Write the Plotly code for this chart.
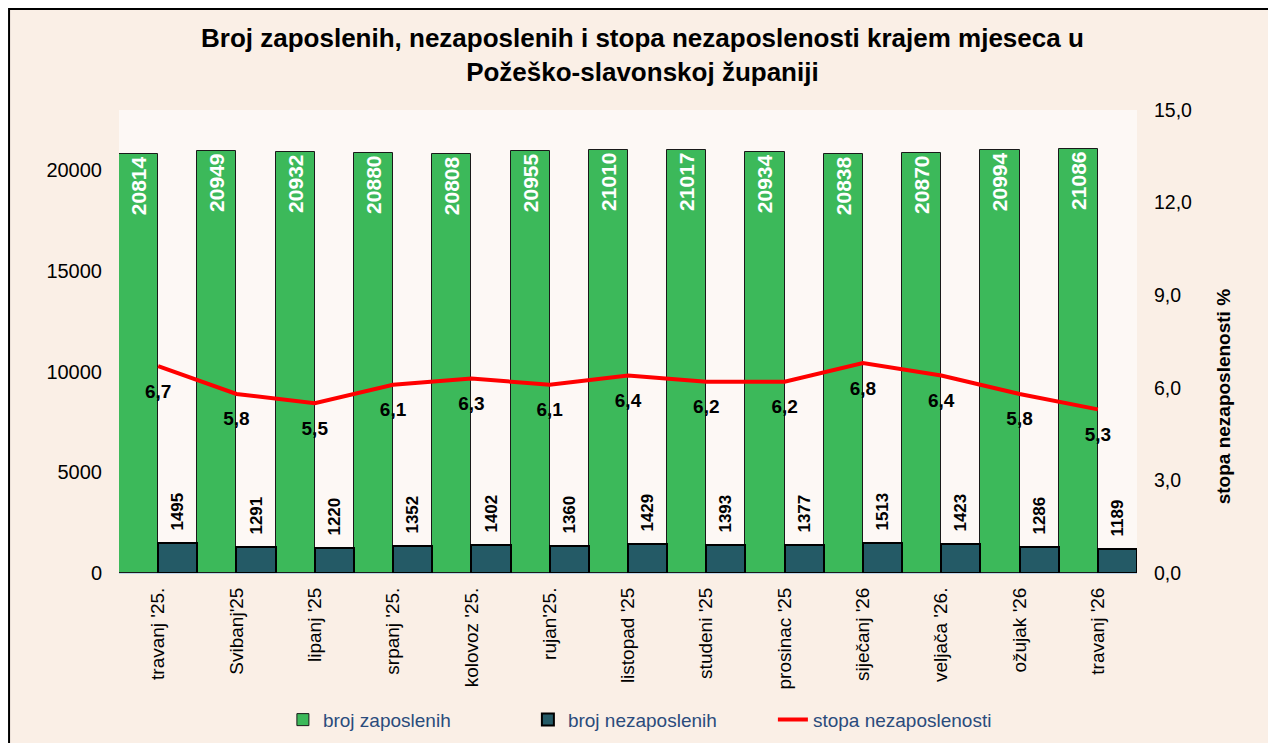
import plotly.graph_objects as go

months = ["travanj '25.", "Svibanj'25", "lipanj '25", "srpanj '25.", "kolovoz '25.", "rujan'25.",
          "listopad '25", "studeni '25", "prosinac '25", "siječanj '26", "veljača '26.", "ožujak '26",
          "travanj '26"]
zaposleni = [20814, 20949, 20932, 20880, 20808, 20955, 21010, 21017, 20934, 20838, 20870, 20994, 21086]
nezaposleni = [1495, 1291, 1220, 1352, 1402, 1360, 1429, 1393, 1377, 1513, 1423, 1286, 1189]
stopa = [6.7, 5.8, 5.5, 6.1, 6.3, 6.1, 6.4, 6.2, 6.2, 6.8, 6.4, 5.8, 5.3]

FONT = "Liberation Sans, Arial, sans-serif"

fig = go.Figure()
fig.add_trace(go.Bar(
    x=months, y=zaposleni, name="broj zaposlenih",
    marker=dict(color="#3CB95A", line=dict(color="#1a1a1a", width=1)),
    text=[f"<b>{v}</b>" for v in zaposleni], textposition="inside", insidetextanchor="end", textangle=-90,
    textfont=dict(color="white", size=21, family=FONT), constraintext="none",
))
fig.add_trace(go.Bar(
    x=months, y=nezaposleni, name="broj nezaposlenih",
    marker=dict(color="#245A66", line=dict(color="#000000", width=2)),
    # leading spaces lift the rotated label a bit above the bar, like the original
    text=[f"\u00a0\u00a0<b>{v}</b>" for v in nezaposleni], textposition="outside", textangle=-90,
    textfont=dict(color="black", size=17, family=FONT), constraintext="none",
    cliponaxis=False,
))
fig.add_trace(go.Scatter(
    x=months, y=stopa, name="stopa nezaposlenosti", yaxis="y2",
    mode="lines+markers+text", line=dict(color="#FF0000", width=4),
    marker=dict(size=26, color="rgba(0,0,0,0)"),
    text=["<b>" + f"{v:.1f}".replace(".", ",") + "</b>" for v in stopa], textposition="bottom center",
    textfont=dict(color="black", size=19, family=FONT),
))

fig.update_layout(
    width=1276, height=743,
    font=dict(family=FONT, size=15, color="black"),
    paper_bgcolor="#FAEFE6", plot_bgcolor="#FDF8F5",
    margin=dict(l=111, r=147, t=102, b=178),
    barmode="group", bargap=0, bargroupgap=0,
    separators=",.",
    xaxis=dict(range=[-0.5, len(months) - 0.5], tickangle=-90, showgrid=False, ticks="",
               linecolor="#BFD4E8", linewidth=1,
               tickfont=dict(size=19, color="black"), ticklabelstandoff=6),
    yaxis=dict(range=[0, 23000], tickvals=[0, 5000, 10000, 15000, 20000], ticktext=["0", "5000", "10000", "15000", "20000"],
               showgrid=False, zeroline=False, tickfont=dict(size=20, color="black"), ticklabelstandoff=16),
    yaxis2=dict(range=[0, 15], dtick=3, tickformat=".1f", overlaying="y", side="right",
                showgrid=False, zeroline=False, tickfont=dict(size=19.5, color="black"),
                ticklabelstandoff=16),
    legend=dict(orientation="h", x=0.522, xanchor="center", y=-0.317, yanchor="middle",
                font=dict(size=19, color="#2A4B7C"), bgcolor="rgba(0,0,0,0)", traceorder="normal",
                entrywidth=200),
    showlegend=True,
)

fig.add_annotation(text="<b>Broj zaposlenih, nezaposlenih i stopa nezaposlenosti krajem mjeseca u<br>Požeško-slavonskoj županiji</b>",
                   xref="paper", yref="paper", x=0.514, y=1.119, xanchor="center", yanchor="middle",
                   showarrow=False, font=dict(size=26, color="black", family=FONT))

fig.add_annotation(text="<b>stopa nezaposlenosti %</b>", textangle=-90, xref="paper", yref="paper",
                   x=1.097, y=0.38, showarrow=False, font=dict(size=19, color="black", family=FONT))

fig.add_shape(type="rect", xref="paper", yref="paper",
              x0=-0.108, x1=1.1306, y0=-0.42, y1=1.218,
              line=dict(color="black", width=2), fillcolor="rgba(0,0,0,0)", layer="below")

fig.write_html("out.html")
